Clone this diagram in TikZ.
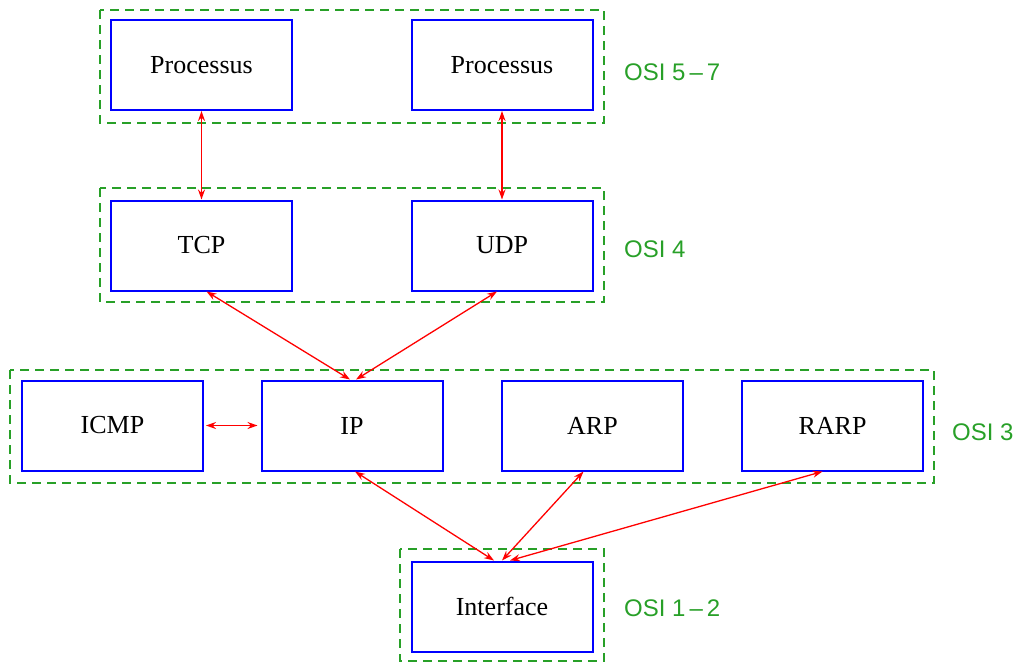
\documentclass[tikz,border=0pt]{standalone}
\usepackage{fontspec}
\setmainfont{Liberation Serif}
\newfontfamily\labelfont{Liberation Sans}
\usetikzlibrary{arrows.meta}
\definecolor{layergreen}{RGB}{40,160,40}
\begin{document}
\begin{tikzpicture}[x=1pt,y=-1pt,
  proto/.style={draw=blue,line width=2pt,minimum width=181pt,minimum height=90pt,
    inner sep=0pt,font=\fontsize{26}{30}\selectfont},
  layer/.style={draw=layergreen,line width=2pt,dash pattern=on 9pt off 6pt},
  layername/.style={text=layergreen,anchor=west,inner sep=0pt,
    font=\labelfont\fontsize{24}{28}\selectfont},
  link/.style={draw=red,line width=1.3pt,{Stealth[length=10pt,width=7pt]}-{Stealth[length=10pt,width=7pt]}}]
\useasboundingbox (0,0) rectangle (1019,664);
% protocol layers
\draw[layer] (100,10) rectangle (604,123);
\draw[layer] (100,188) rectangle (604,302);
\draw[layer] (10,370) rectangle (934,483);
\draw[layer] (400,549) rectangle (604,661);
\node[layername] (l57) at (624,72) {OSI 5\,\textendash\,7};
\node[layername] (l4) at (624,249) {OSI 4};
\node[layername] (l3) at (952,432) {OSI 3};
\node[layername] (l12) at (624,608) {OSI 1\,\textendash\,2};
% protocol boxes
\node[proto] (p1) at (201.5,65) {Processus};
\node[proto] (p2) at (502,65) {Processus};
\node[proto] (tcp) at (201.5,245.5) {TCP};
\node[proto] (udp) at (502,245.5) {UDP};
\node[proto] (icmp) at (112.5,425.5) {ICMP};
\node[proto] (ip) at (352,425.5) {IP};
\node[proto] (arp) at (592.5,425.5) {ARP};
\node[proto] (rarp) at (832.5,425.5) {RARP};
\node[proto] (iface) at (502,606.5) {Interface};
% links
\draw[link] (p1.south) -- (tcp.north);
\draw[link] (p2.south) -- (udp.north);
\draw[link] ([xshift=5pt]tcp.south) -- ([xshift=-2pt]ip.north);
\draw[link] ([xshift=-5pt]udp.south) -- ([xshift=4pt]ip.north);
\draw[link] ([xshift=2pt]icmp.east) -- ([xshift=-3pt]ip.west);
\draw[link] ([xshift=3pt]ip.south) -- ([xshift=-8pt]iface.north);
\draw[link] ([xshift=-9pt]arp.south) -- ([xshift=0pt]iface.north);
\draw[link] ([xshift=-10pt]rarp.south) -- ([xshift=8pt]iface.north);
\end{tikzpicture}
\end{document}
